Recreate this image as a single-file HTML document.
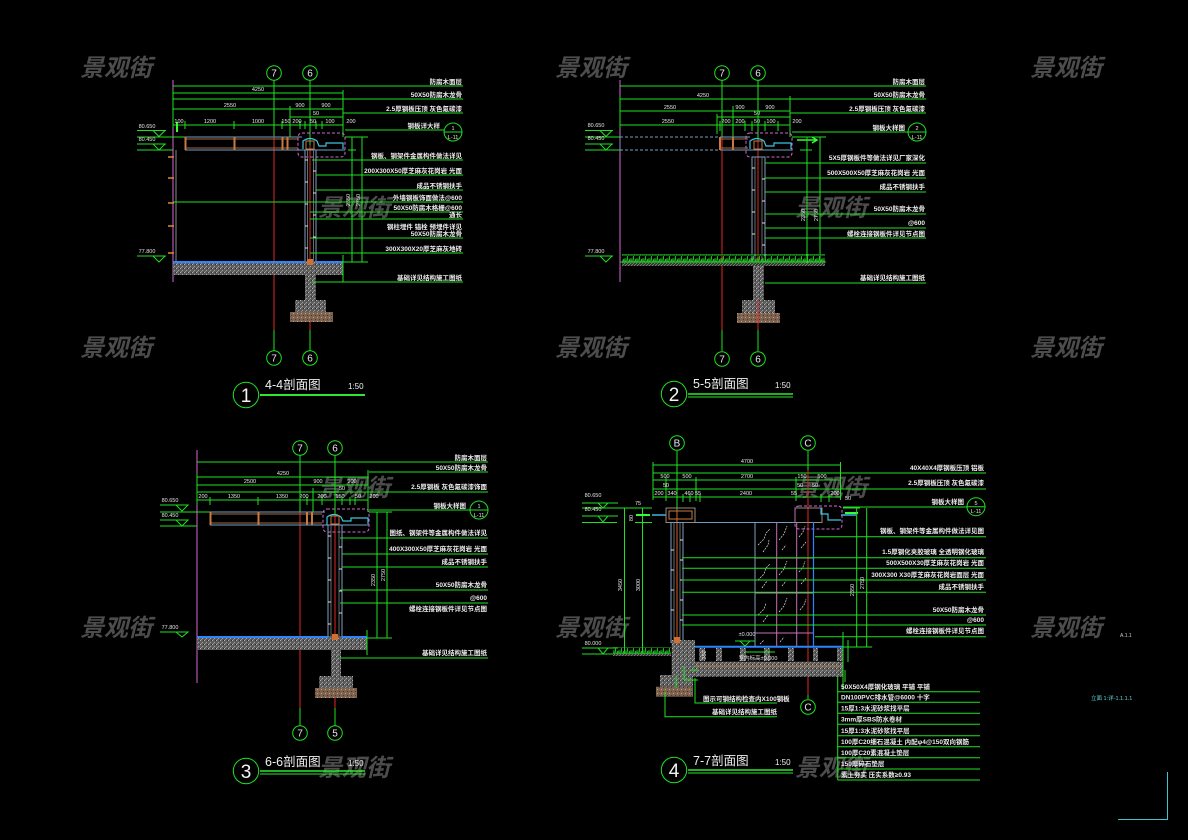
<!DOCTYPE html>
<html><head><meta charset="utf-8">
<style>
html,body{margin:0;padding:0;background:#000;}
svg{display:block}
text{font-family:"Liberation Sans","Noto Sans CJK SC",sans-serif;}
.g{stroke:#1fe21f;stroke-width:1;fill:none}
.mg{stroke:#d468d4;stroke-width:1;fill:none}
.md{stroke:#d468d4;stroke-width:1;fill:none;stroke-dasharray:3 2}
.rd{stroke:#e02626;stroke-width:1}
.bl{stroke:#2a86ff;stroke-width:2}
.st{stroke:#7f9fc4;stroke-width:1;fill:none}
.cy{stroke:#3cc4e0;stroke-width:1.2;fill:none}
.or{stroke:#c8783c;stroke-width:1}
.gy{stroke:#8a8a8a;stroke-width:1}
.t{fill:#ececec;font-size:6.5px;font-weight:bold}
.e{text-anchor:end}
.d{fill:#e4e4e4;font-size:5.5px;text-anchor:middle}
.ax{fill:#e8e8e8;font-size:10px;text-anchor:middle}
.wm{fill:#4c4c4c;font-size:24px;font-style:italic;font-weight:bold;font-family:"Liberation Sans","Noto Sans CJK SC",sans-serif}
.tt{fill:#f0f0f0;font-size:12.5px}
.ts{fill:#f0f0f0;font-size:8px}
.tn{fill:#f4f4f4;font-size:19px;text-anchor:middle}
</style></head>
<body>
<svg width="1188" height="840" viewBox="0 0 1188 840" xmlns="http://www.w3.org/2000/svg">
<defs>
<pattern id="conc" width="4" height="4" patternUnits="userSpaceOnUse">
<rect width="4" height="4" fill="#5c5c5c"/>
<rect x="0" y="0" width="1" height="1" fill="#b4b4b4"/>
<rect x="2" y="2" width="1" height="1" fill="#a0a0a0"/>
<rect x="3" y="0" width="1" height="1" fill="#2e2e2e"/>
<rect x="1" y="3" width="1" height="1" fill="#8a8a8a"/>
</pattern>
<pattern id="brn" width="4" height="4" patternUnits="userSpaceOnUse">
<rect width="4" height="4" fill="#7e6450"/>
<rect x="1" y="1" width="1" height="1" fill="#c0a080"/>
<rect x="3" y="3" width="1" height="1" fill="#4a3a2e"/>
</pattern>
<pattern id="grass" width="6" height="8" patternUnits="userSpaceOnUse">
<path d="M0 8 L1 2 L2 8 M2 8 L3.5 0 L4 8 M4 8 L5.5 3 L6 8" stroke="#23b823" fill="none" stroke-width="0.8"/>
</pattern>
<pattern id="hat" width="3" height="3" patternUnits="userSpaceOnUse">
<rect width="3" height="3" fill="#333"/>
<path d="M0 3 L3 0" stroke="#9a9a9a" stroke-width="0.6"/>
</pattern>
</defs>
<rect width="1188" height="840" fill="#000"/>

<!-- watermarks -->
<text class="wm" x="80" y="76">景观街</text>
<text class="wm" x="555" y="76">景观街</text>
<text class="wm" x="1030" y="76">景观街</text>
<text class="wm" x="318" y="216">景观街</text>
<text class="wm" x="795" y="216">景观街</text>
<text class="wm" x="80" y="356">景观街</text>
<text class="wm" x="555" y="356">景观街</text>
<text class="wm" x="1030" y="356">景观街</text>
<text class="wm" x="318" y="496">景观街</text>
<text class="wm" x="795" y="496">景观街</text>
<text class="wm" x="80" y="636">景观街</text>
<text class="wm" x="555" y="636">景观街</text>
<text class="wm" x="1030" y="636">景观街</text>
<text class="wm" x="318" y="776">景观街</text>
<text class="wm" x="795" y="776">景观街</text>

<!-- ================= SECTION 1 ================= -->
<g>
<line x1="173" y1="80" x2="173" y2="282" class="mg"/>
<line x1="176" y1="150" x2="176" y2="262" class="gy"/>
<line x1="173" y1="86" x2="463" y2="86" class="g"/>
<line x1="173" y1="93" x2="343" y2="93" class="g"/>
<line x1="173" y1="99" x2="463" y2="99" class="g"/>
<line x1="173" y1="109" x2="343" y2="109" class="g"/>
<line x1="343" y1="113" x2="463" y2="113" class="g"/>
<line x1="290" y1="117" x2="343" y2="117" class="g"/>
<line x1="173" y1="125" x2="343" y2="125" class="g"/>
<line x1="345" y1="130" x2="444" y2="130" class="g"/>
<line x1="343" y1="90" x2="343" y2="137" class="g"/>
<line x1="290" y1="106" x2="290" y2="137" class="g"/>
<line x1="173" y1="90" x2="173" y2="128" class="g"/>
<path d="M185 121v8 M234 121v8 M282 121v8 M290 121v8 M300 121v8 M305 121v8 M316 121v8 M322 121v8 M310 106v6 M310 121v8" class="g"/>
<line x1="177" y1="122" x2="177" y2="132" stroke="#3f3" stroke-width="2"/>
<text class="d" x="258" y="91">4250</text>
<text class="d" x="230" y="107">2550</text>
<text class="d" x="300" y="107">900</text>
<text class="d" x="326" y="107">900</text>
<text class="d" x="316" y="115">50</text>
<text class="d" x="179" y="123">100</text>
<text class="d" x="210" y="123">1200</text>
<text class="d" x="258" y="123">1000</text>
<text class="d" x="286" y="123">150</text>
<text class="d" x="297" y="123">200</text>
<text class="d" x="313" y="123">50</text>
<text class="d" x="330" y="123">100</text>
<text class="d" x="351" y="123">200</text>
<text class="d" x="147" y="128">80.650</text>
<line x1="137" y1="130.5" x2="166" y2="130.5" class="g"/>
<path d="M153 130.5 L165 130.5 L159 136.5 Z" class="g"/>
<line x1="137" y1="137" x2="185" y2="137" class="g"/>
<text class="d" x="147" y="141">80.450</text>
<line x1="137" y1="144" x2="166" y2="144" class="g"/>
<path d="M153 144 L165 144 L159 150 Z" class="g"/>
<line x1="137" y1="150" x2="173" y2="150" class="g"/>
<text class="d" x="147" y="253">77.800</text>
<line x1="137" y1="256" x2="166" y2="256" class="g"/>
<path d="M153 256 L165 256 L159 262 Z" class="g"/>
<line x1="274" y1="80" x2="274" y2="136" class="g"/>
<line x1="274" y1="136" x2="274" y2="330" class="rd"/>
<line x1="274" y1="330" x2="274" y2="351" class="g"/>
<line x1="310" y1="80" x2="310" y2="145" class="g"/>
<line x1="310" y1="145" x2="310" y2="330" class="rd"/>
<line x1="310" y1="330" x2="310" y2="351" class="g"/>
<circle cx="274" cy="73" r="7.3" class="g"/><text class="ax" x="274" y="76.5">7</text>
<circle cx="310" cy="73" r="7.3" class="g"/><text class="ax" x="310" y="76.5">6</text>
<circle cx="274" cy="358" r="7.3" class="g"/><text class="ax" x="274" y="361.5">7</text>
<circle cx="310" cy="358" r="7.3" class="g"/><text class="ax" x="310" y="361.5">6</text>
<line x1="185" y1="137" x2="302" y2="137" stroke="#6f9fc8"/>
<line x1="185" y1="150" x2="345" y2="150" stroke="#6f9fc8"/>
<line x1="186" y1="139" x2="298" y2="139" stroke="#a86a3e"/>
<line x1="186" y1="148" x2="298" y2="148" stroke="#a86a3e"/>
<rect x="184.5" y="137" width="2" height="13" fill="#c87a40"/>
<rect x="233.5" y="137" width="2" height="13" fill="#c87a40"/>
<rect x="281.5" y="137" width="2" height="13" fill="#c87a40"/>
<rect x="286.5" y="137" width="2" height="13" fill="#c87a40"/>
<rect x="298" y="133" width="47" height="24" rx="4" class="md"/>
<path d="M303 149 L303 141 Q310 136 317 141 L319 146 L326 146 L326 143 L343 143 L343 149" class="cy"/>
<rect x="306" y="141" width="8" height="8" fill="none" stroke="#c8783c"/>
<rect x="305" y="150" width="11" height="112" class="st"/>
<line x1="307.5" y1="150" x2="307.5" y2="262" stroke="#6a6a6a"/>
<line x1="313.5" y1="150" x2="313.5" y2="262" stroke="#6a6a6a"/>
<path d="M305 160h3M305 182h3M305 204h3M305 226h3M305 248h3M313 171h3M313 193h3M313 215h3M313 237h3" stroke="#ddd" stroke-width="1"/>
<path d="M168 157h6M168 178h6M168 203h6M168 226h6M168 253h6" stroke="#e08a30" stroke-width="1.5"/>
<rect x="173" y="262" width="170" height="13" fill="url(#conc)"/>
<line x1="173" y1="262" x2="305" y2="262" class="bl"/>
<line x1="316" y1="262" x2="343" y2="262" class="bl"/>
<line x1="343" y1="255" x2="343" y2="282" class="g"/>
<rect x="305" y="275" width="11" height="25" fill="url(#conc)"/>
<rect x="295" y="300" width="31" height="12" fill="url(#conc)"/>
<rect x="290" y="312" width="43" height="10" fill="url(#brn)"/>
<rect x="307" y="259" width="6" height="6" fill="#d07030"/>
<line x1="352" y1="137" x2="352" y2="262" class="g"/>
<line x1="362" y1="137" x2="362" y2="262" class="g"/>
<line x1="345" y1="137" x2="368" y2="137" class="g"/>
<line x1="343" y1="262" x2="368" y2="262" class="g"/>
<line x1="348" y1="150" x2="356" y2="150" class="g"/>
<text class="d" transform="translate(350,200) rotate(-90)">2350</text>
<text class="d" transform="translate(360,200) rotate(-90)">2750</text>
<line x1="312" y1="160" x2="463" y2="160" class="g"/>
<line x1="316" y1="175" x2="463" y2="175" class="g"/>
<line x1="316" y1="190" x2="463" y2="190" class="g"/>
<line x1="173" y1="202" x2="463" y2="202" class="g"/>
<line x1="310" y1="212" x2="463" y2="212" class="g"/>
<line x1="310" y1="219" x2="463" y2="219" class="g"/>
<line x1="310" y1="238" x2="463" y2="238" class="g"/>
<line x1="310" y1="253" x2="463" y2="253" class="g"/>
<line x1="312" y1="282" x2="463" y2="282" class="g"/>
<text class="t e" x="462" y="84">防腐木面层</text>
<text class="t e" x="462" y="97">50X50防腐木龙骨</text>
<text class="t e" x="462" y="111">2.5厚钢板压顶 灰色氟碳漆</text>
<text class="t e" x="440" y="128">钢板详大样</text>
<circle cx="453" cy="132" r="9" class="g"/>
<line x1="444" y1="132" x2="462" y2="132" class="g"/>
<text class="d" x="453" y="130">1</text><text class="d" x="453" y="139">L-11</text>
<text class="t e" x="462" y="158">钢板、钢架件金属构件做法详见</text>
<text class="t e" x="462" y="173">200X300X50厚芝麻灰花岗岩 光面</text>
<text class="t e" x="462" y="188">成品不锈钢扶手</text>
<text class="t e" x="462" y="200">外墙钢板饰面做法@600</text>
<text class="t e" x="462" y="210">50X50防腐木格栅@600</text>
<text class="t e" x="462" y="217">通长</text>
<text class="t e" x="462" y="229">钢柱埋件 锚栓 预埋件详见</text>
<text class="t e" x="462" y="236">50X50防腐木龙骨</text>
<text class="t e" x="462" y="251">300X300X20厚芝麻灰地砖</text>
<text class="t e" x="462" y="280">基础详见结构施工图纸</text>
<circle cx="246" cy="395" r="12.7" class="g"/>
<text class="tn" x="246" y="402">1</text>
<text class="tt" x="265" y="389">4-4剖面图</text>
<text class="ts" x="348" y="389">1:50</text>
<line x1="260" y1="395" x2="365" y2="395" stroke="#2de82d" stroke-width="2"/>
</g>

<!-- ================= SECTION 2 ================= -->
<g>
<line x1="620" y1="80" x2="620" y2="282" class="mg"/>
<line x1="620" y1="86" x2="926" y2="86" class="g"/>
<line x1="620" y1="99" x2="926" y2="99" class="g"/>
<line x1="620" y1="111" x2="790" y2="111" class="g"/>
<line x1="790" y1="113" x2="926" y2="113" class="g"/>
<line x1="717" y1="117" x2="790" y2="117" class="g"/>
<line x1="620" y1="125" x2="790" y2="125" class="g"/>
<line x1="792" y1="132" x2="908" y2="132" class="g"/>
<line x1="790" y1="96" x2="790" y2="137" class="g"/>
<line x1="733" y1="106" x2="733" y2="137" class="g"/>
<path d="M620 96v32 M717 114v20 M720 121v10 M733 121v10 M745 121v10 M752 121v10 M765 121v10 M778 121v10" class="g"/>
<text class="d" x="703" y="97">4250</text>
<text class="d" x="670" y="109">2550</text>
<text class="d" x="740" y="109">900</text>
<text class="d" x="770" y="109">900</text>
<text class="d" x="757" y="115">50</text>
<text class="d" x="668" y="123">2550</text>
<text class="d" x="726" y="123">200</text>
<text class="d" x="740" y="123">200</text>
<text class="d" x="757" y="123">50</text>
<text class="d" x="771" y="123">100</text>
<text class="d" x="797" y="123">200</text>
<text class="d" x="596" y="127">80.650</text>
<line x1="585" y1="130.5" x2="613" y2="130.5" class="g"/>
<path d="M600 130.5 L612 130.5 L606 136.5 Z" class="g"/>
<line x1="585" y1="137" x2="620" y2="137" class="g"/>
<text class="d" x="596" y="140">80.450</text>
<line x1="585" y1="144" x2="613" y2="144" class="g"/>
<path d="M600 144 L612 144 L606 150 Z" class="g"/>
<line x1="585" y1="150" x2="620" y2="150" class="g"/>
<text class="d" x="596" y="253">77.800</text>
<line x1="585" y1="256" x2="613" y2="256" class="g"/>
<path d="M600 256 L612 256 L606 262 Z" class="g"/>
<line x1="722" y1="80" x2="722" y2="137" class="g"/>
<line x1="722" y1="137" x2="722" y2="330" class="rd"/>
<line x1="722" y1="330" x2="722" y2="351" class="g"/>
<line x1="758" y1="80" x2="758" y2="140" class="g"/>
<line x1="758" y1="140" x2="758" y2="330" class="rd"/>
<line x1="758" y1="330" x2="758" y2="351" class="g"/>
<circle cx="722" cy="73" r="7.3" class="g"/><text class="ax" x="722" y="76.5">7</text>
<circle cx="758" cy="73" r="7.3" class="g"/><text class="ax" x="758" y="76.5">6</text>
<circle cx="722" cy="359" r="7.3" class="g"/><text class="ax" x="722" y="362.5">7</text>
<circle cx="758" cy="359" r="7.3" class="g"/><text class="ax" x="758" y="362.5">6</text>
<rect x="620" y="137" width="100" height="13" fill="none" stroke="#6f9fc8" stroke-dasharray="3 2"/>
<line x1="720" y1="137" x2="750" y2="137" stroke="#6f9fc8"/>
<line x1="720" y1="150" x2="792" y2="150" stroke="#6f9fc8"/>
<rect x="719" y="137" width="2" height="13" fill="#c87a40"/>
<rect x="732" y="137" width="2" height="13" fill="#c87a40"/>
<line x1="720" y1="139" x2="748" y2="139" stroke="#a86a3e"/>
<line x1="720" y1="148" x2="748" y2="148" stroke="#a86a3e"/>
<rect x="746" y="133" width="46" height="24" rx="4" class="md"/>
<path d="M750 149 L750 141 Q757 136 764 141 L766 146 L774 146 L774 143 L791 143 L791 149" class="cy"/>
<rect x="754" y="141" width="8" height="8" fill="none" stroke="#c8783c"/>
<path d="M797 140h20 M812 137l5 3l-5 3" stroke="#3f3" stroke-width="1.5" fill="none"/>
<rect x="752" y="157" width="13" height="105" class="st"/>
<line x1="755" y1="157" x2="755" y2="262" stroke="#6a6a6a"/>
<line x1="762" y1="157" x2="762" y2="262" stroke="#6a6a6a"/>
<path d="M752 168h3M752 190h3M752 212h3M752 234h3M762 179h3M762 201h3M762 223h3M762 245h3" stroke="#ddd"/>
<rect x="622" y="254" width="203" height="9" fill="url(#grass)"/>
<line x1="620" y1="262" x2="826" y2="262" stroke="#2bd02b"/>
<rect x="622" y="263" width="203" height="3" fill="url(#hat)"/>
<rect x="753" y="266" width="11" height="34" fill="url(#conc)"/>
<rect x="742" y="300" width="33" height="13" fill="url(#conc)"/>
<rect x="737" y="313" width="43" height="10" fill="url(#brn)"/>
<line x1="758" y1="300" x2="758" y2="330" class="rd"/>
<line x1="807" y1="137" x2="807" y2="263" class="g"/>
<line x1="820" y1="137" x2="820" y2="263" class="g"/>
<line x1="792" y1="137" x2="826" y2="137" class="g"/>
<line x1="800" y1="150" x2="812" y2="150" class="g"/>
<text class="d" transform="translate(805,215) rotate(-90)">2350</text>
<text class="d" transform="translate(818,215) rotate(-90)">2750</text>
<line x1="765" y1="163" x2="926" y2="163" class="g"/>
<line x1="765" y1="178" x2="926" y2="178" class="g"/>
<line x1="765" y1="192" x2="926" y2="192" class="g"/>
<line x1="765" y1="214" x2="926" y2="214" class="g"/>
<line x1="765" y1="228" x2="926" y2="228" class="g"/>
<line x1="765" y1="238" x2="926" y2="238" class="g"/>
<line x1="765" y1="283" x2="926" y2="283" class="g"/>
<text class="t e" x="925" y="84">防腐木面层</text>
<text class="t e" x="925" y="97">50X50防腐木龙骨</text>
<text class="t e" x="925" y="111">2.5厚钢板压顶 灰色氟碳漆</text>
<text class="t e" x="905" y="130">钢板大样图</text>
<circle cx="917" cy="132" r="9" class="g"/>
<line x1="908" y1="132" x2="926" y2="132" class="g"/>
<text class="d" x="917" y="130">2</text><text class="d" x="917" y="139">L-11</text>
<text class="t e" x="925" y="160">5X5厚钢板件等做法详见厂家深化</text>
<text class="t e" x="925" y="175">500X500X50厚芝麻灰花岗岩 光面</text>
<text class="t e" x="925" y="189">成品不锈钢扶手</text>
<text class="t e" x="925" y="211">50X50防腐木龙骨</text>
<text class="t e" x="925" y="225">@600</text>
<text class="t e" x="925" y="236">螺栓连接钢板件详见节点图</text>
<text class="t e" x="925" y="280">基础详见结构施工图纸</text>
<circle cx="674" cy="394" r="12.7" class="g"/>
<text class="tn" x="674" y="401">2</text>
<text class="tt" x="693" y="388">5-5剖面图</text>
<text class="ts" x="775" y="388">1:50</text>
<line x1="688" y1="394" x2="793" y2="394" stroke="#2de82d" stroke-width="1.5"/>
<line x1="688" y1="397" x2="793" y2="397" stroke="#2de82d" stroke-width="1"/>
</g>

<!-- ================= SECTION 3 ================= -->
<g>
<line x1="197" y1="450" x2="197" y2="683" class="mg"/>
<line x1="197" y1="462" x2="488" y2="462" class="g"/>
<line x1="369" y1="472" x2="488" y2="472" class="g"/>
<line x1="197" y1="477" x2="368" y2="477" class="g" stroke-width="1.5"/>
<line x1="197" y1="485" x2="368" y2="485" class="g"/>
<line x1="197" y1="492" x2="488" y2="492" class="g"/>
<line x1="197" y1="500" x2="368" y2="500" class="g"/>
<line x1="369" y1="510" x2="470" y2="510" class="g"/>
<line x1="368" y1="470" x2="368" y2="512" class="g"/>
<line x1="313" y1="488" x2="313" y2="512" class="g"/>
<path d="M197 474v30 M210 497v8 M258 497v8 M300 474v8 M300 497v8 M307 497v8 M322 497v8 M335 474v8 M335 497v8 M342 497v8 M350 497v8 M355 497v8" class="g"/>
<text class="d" x="283" y="475">4250</text>
<text class="d" x="250" y="483">2500</text>
<text class="d" x="318" y="483">900</text>
<text class="d" x="352" y="483">900</text>
<text class="d" x="342" y="490">50</text>
<text class="d" x="203" y="498">200</text>
<text class="d" x="234" y="498">1350</text>
<text class="d" x="282" y="498">1350</text>
<text class="d" x="304" y="498">200</text>
<text class="d" x="322" y="498">200</text>
<text class="d" x="340" y="498">150</text>
<text class="d" x="358" y="498">50</text>
<text class="d" x="374" y="498">200</text>
<text class="d" x="170" y="502">80.650</text>
<line x1="160" y1="505" x2="188" y2="505" class="g"/>
<path d="M176 505 L188 505 L182 511 Z" class="g"/>
<line x1="160" y1="512" x2="210" y2="512" class="g"/>
<text class="d" x="170" y="517">80.450</text>
<line x1="160" y1="520" x2="188" y2="520" class="g"/>
<path d="M176 520 L188 520 L182 526 Z" class="g"/>
<line x1="160" y1="526" x2="197" y2="526" class="g"/>
<text class="d" x="170" y="629">77.800</text>
<line x1="160" y1="632" x2="188" y2="632" class="g"/>
<path d="M176 632 L188 632 L182 637 Z" class="g"/>
<line x1="300" y1="455" x2="300" y2="512" class="g"/>
<line x1="300" y1="512" x2="300" y2="708" class="rd"/>
<line x1="300" y1="708" x2="300" y2="726" class="g"/>
<line x1="335" y1="455" x2="335" y2="515" class="g"/>
<line x1="335" y1="515" x2="335" y2="708" class="rd"/>
<line x1="335" y1="708" x2="335" y2="726" class="g"/>
<circle cx="300" cy="448" r="7.3" class="g"/><text class="ax" x="300" y="451.5">7</text>
<circle cx="335" cy="448" r="7.3" class="g"/><text class="ax" x="335" y="451.5">6</text>
<circle cx="300" cy="733" r="7.3" class="g"/><text class="ax" x="300" y="736.5">7</text>
<circle cx="335" cy="733" r="7.3" class="g"/><text class="ax" x="335" y="736.5">5</text>
<line x1="210" y1="512" x2="325" y2="512" stroke="#6f9fc8"/>
<line x1="210" y1="525" x2="369" y2="525" stroke="#6f9fc8"/>
<line x1="211" y1="514" x2="322" y2="514" stroke="#a86a3e"/>
<line x1="211" y1="523" x2="322" y2="523" stroke="#a86a3e"/>
<rect x="209.5" y="512" width="2" height="13" fill="#c87a40"/>
<rect x="257.5" y="512" width="2" height="13" fill="#c87a40"/>
<rect x="306" y="512" width="2" height="13" fill="#c87a40"/>
<rect x="311" y="512" width="2" height="13" fill="#c87a40"/>
<rect x="323" y="509" width="46" height="23" rx="4" class="md"/>
<path d="M327 525 L327 517 Q334 512 341 517 L343 521 L351 521 L351 518 L368 518 L368 524" class="cy"/>
<rect x="331" y="516" width="8" height="8" fill="none" stroke="#c8783c"/>
<rect x="328" y="525" width="14" height="112" class="st"/>
<line x1="331" y1="525" x2="331" y2="637" stroke="#6a6a6a"/>
<line x1="339" y1="525" x2="339" y2="637" stroke="#6a6a6a"/>
<path d="M328 536h3M328 558h3M328 580h3M328 602h3M328 624h3M339 547h3M339 569h3M339 591h3M339 613h3" stroke="#ddd"/>
<rect x="197" y="637" width="170" height="13" fill="url(#conc)"/>
<line x1="197" y1="637" x2="328" y2="637" class="bl"/>
<line x1="342" y1="637" x2="367" y2="637" class="bl"/>
<line x1="367" y1="630" x2="367" y2="655" class="g"/>
<rect x="332" y="634" width="6" height="6" fill="#d07030"/>
<rect x="331" y="650" width="10" height="27" fill="url(#conc)"/>
<rect x="319" y="676" width="34" height="12" fill="url(#conc)"/>
<rect x="315" y="688" width="42" height="10" fill="url(#brn)"/>
<line x1="377" y1="512" x2="377" y2="638" class="g"/>
<line x1="387" y1="512" x2="387" y2="638" class="g"/>
<line x1="369" y1="512" x2="392" y2="512" class="g"/>
<line x1="367" y1="638" x2="392" y2="638" class="g"/>
<text class="d" transform="translate(375,580) rotate(-90)">2350</text>
<text class="d" transform="translate(385,575) rotate(-90)">2750</text>
<line x1="340" y1="538" x2="488" y2="538" class="g"/>
<line x1="342" y1="554" x2="488" y2="554" class="g"/>
<line x1="342" y1="567" x2="488" y2="567" class="g"/>
<line x1="340" y1="590" x2="488" y2="590" class="g"/>
<line x1="340" y1="603" x2="488" y2="603" class="g"/>
<line x1="340" y1="658" x2="488" y2="658" class="g"/>
<text class="t e" x="487" y="460">防腐木面层</text>
<text class="t e" x="487" y="470">50X50防腐木龙骨</text>
<text class="t e" x="487" y="489">2.5厚钢板 灰色氟碳漆饰面</text>
<text class="t e" x="466" y="508">钢板大样图</text>
<circle cx="479" cy="510" r="9" class="g"/>
<line x1="470" y1="510" x2="488" y2="510" class="g"/>
<text class="d" x="479" y="508">1</text><text class="d" x="479" y="517">L-11</text>
<text class="t e" x="487" y="535">图纸、钢架件等金属构件做法详见</text>
<text class="t e" x="487" y="551">400X300X50厚芝麻灰花岗岩 光面</text>
<text class="t e" x="487" y="564">成品不锈钢扶手</text>
<text class="t e" x="487" y="587">50X50防腐木龙骨</text>
<text class="t e" x="487" y="600">@600</text>
<text class="t e" x="487" y="611">螺栓连接钢板件详见节点图</text>
<text class="t e" x="487" y="655">基础详见结构施工图纸</text>
<circle cx="246" cy="771" r="12.7" class="g"/>
<text class="tn" x="246" y="778">3</text>
<text class="tt" x="265" y="766">6-6剖面图</text>
<text class="ts" x="348" y="766">1:50</text>
<line x1="260" y1="771" x2="365" y2="771" stroke="#2de82d" stroke-width="1.5"/>
<line x1="260" y1="774" x2="365" y2="774" stroke="#2de82d" stroke-width="1"/>
</g>

<!-- ================= SECTION 4 ================= -->
<g>
<line x1="653" y1="465" x2="840" y2="465" class="g"/>
<line x1="653" y1="473" x2="986" y2="473" class="g"/>
<line x1="653" y1="480" x2="840" y2="480" class="g"/>
<line x1="840" y1="489" x2="986" y2="489" class="g"/>
<line x1="653" y1="489" x2="840" y2="489" class="g"/>
<line x1="653" y1="497" x2="840" y2="497" class="g"/>
<line x1="843" y1="507" x2="967" y2="507" class="g"/>
<line x1="840.5" y1="462" x2="840.5" y2="500" class="g"/>
<line x1="653" y1="462" x2="653" y2="500" class="g"/>
<path d="M666 477v24 M677 477v8 M696 477v24 M700 494v8 M796 477v24 M808 477v8 M821 494v8 M829 494v8 M683 494v8 M690 494v8" class="g"/>
<text class="d" x="747" y="463">4700</text>
<text class="d" x="665" y="478">500</text>
<text class="d" x="687" y="478">500</text>
<text class="d" x="747" y="478">2700</text>
<text class="d" x="802" y="478">150</text>
<text class="d" x="822" y="478">500</text>
<text class="d" x="666" y="487">50</text>
<text class="d" x="800" y="487">50</text>
<text class="d" x="815" y="487">50</text>
<text class="d" x="659" y="495">200</text>
<text class="d" x="672" y="495">340</text>
<text class="d" x="689" y="495">460</text>
<text class="d" x="698" y="495">55</text>
<text class="d" x="746" y="495">2400</text>
<text class="d" x="794" y="495">55</text>
<text class="d" x="835" y="495">200</text>
<text class="d" x="848" y="500">50</text>
<text class="d" x="593" y="497">80.650</text>
<line x1="582" y1="503" x2="618" y2="503" class="g"/>
<path d="M598 503 L608 503 L603 508 Z" class="g"/>
<line x1="582" y1="508" x2="652" y2="508" class="g"/>
<text class="d" x="593" y="511">80.450</text>
<line x1="582" y1="516" x2="618" y2="516" class="g"/>
<path d="M598 516 L608 516 L603 522 Z" class="g"/>
<line x1="582" y1="522.5" x2="617" y2="522.5" class="g"/>
<text class="d" x="593" y="645">80.000</text>
<line x1="582" y1="648" x2="618" y2="648" class="g"/>
<path d="M598 648 L608 648 L603 654 Z" class="g"/>
<line x1="582" y1="654" x2="670" y2="654" class="g"/>
<line x1="624.5" y1="508" x2="624.5" y2="654" class="g"/>
<line x1="642.5" y1="508" x2="642.5" y2="654" class="g"/>
<line x1="635" y1="522.5" x2="652" y2="522.5" class="g"/>
<line x1="636" y1="515" x2="650" y2="515" stroke="#3f3" stroke-width="2"/>
<text class="d" x="638" y="505">75</text>
<text class="d" transform="translate(633,518) rotate(-90)">80</text>
<text class="d" transform="translate(622,585) rotate(-90)">3450</text>
<text class="d" transform="translate(640,585) rotate(-90)">3000</text>
<line x1="677" y1="451" x2="677" y2="510" class="g"/>
<line x1="677" y1="510" x2="677" y2="640" stroke="#d8602a"/>
<line x1="808" y1="451" x2="808" y2="470" class="g"/>
<line x1="808" y1="470" x2="808" y2="695" class="rd"/>
<line x1="808" y1="695" x2="808" y2="699" class="g"/>
<circle cx="677" cy="443" r="7.3" class="g"/><text class="ax" x="677" y="446.5">B</text>
<circle cx="808" cy="443" r="7.3" class="g"/><text class="ax" x="808" y="446.5">C</text>
<circle cx="808" cy="707" r="7.3" class="g"/><text class="ax" x="808" y="710.5">C</text>
<line x1="652" y1="515" x2="666" y2="515" stroke="#3cb4e0" stroke-width="1.5"/>
<rect x="666" y="508" width="29" height="14.5" fill="none" stroke="#9a8a7a"/>
<rect x="669" y="511" width="23" height="8" fill="none" stroke="#c8783c"/>
<line x1="695" y1="522.5" x2="796" y2="522.5" stroke="#6f9fc8"/>
<rect x="795" y="508" width="27" height="14.5" fill="none" stroke="#9a8a7a"/>
<rect x="795" y="506" width="47" height="23" rx="4" class="md"/>
<path d="M821 508 L821 514 L828 514 L828 520 L841 520" class="cy"/>
<line x1="841" y1="515" x2="856" y2="515" stroke="#3cb4e0" stroke-width="1.5"/>
<line x1="843" y1="508" x2="860" y2="508" class="g"/>
<line x1="845" y1="513" x2="858" y2="513" stroke="#3f3" stroke-width="2"/>
<rect x="671" y="522.5" width="12" height="120" class="st"/>
<line x1="674" y1="522.5" x2="674" y2="642" stroke="#6a6a6a"/>
<line x1="680" y1="522.5" x2="680" y2="642" stroke="#6a6a6a"/>
<path d="M680 540h3M680 560h3M680 580h3M680 600h3M680 620h3M671 550h3M671 570h3M671 590h3M671 610h3" stroke="#ddd"/>
<line x1="755" y1="522" x2="755" y2="647" stroke="#7f9fc4"/>
<line x1="776.7" y1="522" x2="776.7" y2="647" stroke="#c870b8"/>
<line x1="796.7" y1="522" x2="796.7" y2="647" stroke="#c870b8"/>
<line x1="813.5" y1="522" x2="813.5" y2="647" stroke="#2a86ff" stroke-width="1.2"/>
<line x1="755" y1="558" x2="813" y2="558" stroke="#c870b8"/>
<line x1="755" y1="593" x2="813" y2="593" stroke="#c870b8"/>
<line x1="755" y1="625" x2="813" y2="625" stroke="#c870b8"/>
<line x1="755" y1="633" x2="813" y2="633" stroke="#c870b8"/>
<path d="M758 545l6-6l2-6l4-4 M763 552l5-7l1-5 M779 540l5-6l3-8 M782 550l4-5 M799 537l4-5l2-6 M801 548l5-6 M758 580l6-6l2-6l4-4 M762 588l5-7 M779 575l5-6l3-8 M782 586l4-5 M799 572l4-5l2-6 M801 584l5-6 M758 615l6-6l2-6 M763 622l5-7 M779 612l5-6l3-8 M800 610l4-5l2-6 M760 644l4-4 M780 642l4-5" stroke="#e0e0e0" stroke-width="0.7" fill="none" stroke-dasharray="2 1"/>
<line x1="815" y1="536.7" x2="986" y2="536.7" class="g"/>
<line x1="682" y1="557.7" x2="986" y2="557.7" class="g"/>
<line x1="682" y1="568.3" x2="986" y2="568.3" class="g"/>
<line x1="682" y1="580" x2="986" y2="580" class="g"/>
<line x1="682" y1="592.3" x2="986" y2="592.3" class="g"/>
<line x1="682" y1="615" x2="986" y2="615" class="g"/>
<line x1="682" y1="625" x2="986" y2="625" class="g"/>
<line x1="815" y1="636.7" x2="986" y2="636.7" class="g"/>
<text class="t e" x="984" y="470">40X40X4厚钢板压顶 铝板</text>
<text class="t e" x="984" y="485">2.5厚钢板压顶 灰色氟碳漆</text>
<text class="t e" x="964" y="504">钢板大样图</text>
<circle cx="976" cy="506.7" r="9" class="g"/>
<line x1="967" y1="506.7" x2="985" y2="506.7" class="g"/>
<text class="d" x="976" y="505">5</text><text class="d" x="976" y="513">L-11</text>
<text class="t e" x="984" y="533">钢板、钢架件等金属构件做法详见图</text>
<text class="t e" x="984" y="554">1.5厚钢化夹胶玻璃 全透明钢化玻璃</text>
<text class="t e" x="984" y="565">500X500X30厚芝麻灰花岗岩 光面</text>
<text class="t e" x="984" y="577">300X300 X30厚芝麻灰花岗岩面层 光面</text>
<text class="t e" x="984" y="589">成品不锈钢扶手</text>
<text class="t e" x="984" y="612">50X50防腐木龙骨</text>
<text class="t e" x="984" y="622">@600</text>
<text class="t e" x="984" y="633">螺栓连接钢板件详见节点图</text>
<line x1="856.7" y1="508" x2="856.7" y2="647" class="g"/>
<line x1="866.7" y1="508" x2="866.7" y2="647" class="g"/>
<line x1="843" y1="647" x2="872" y2="647" class="g"/>
<text class="d" transform="translate(854,590) rotate(-90)">2350</text>
<text class="d" transform="translate(864,583) rotate(-90)">2750</text>
<line x1="683" y1="646.7" x2="843" y2="646.7" class="bl"/>
<rect x="699" y="648" width="6" height="13" fill="url(#conc)"/>
<rect x="716" y="648" width="6" height="13" fill="url(#conc)"/>
<rect x="740" y="648" width="6" height="13" fill="url(#conc)"/>
<rect x="764" y="648" width="6" height="13" fill="url(#conc)"/>
<rect x="788" y="648" width="6" height="13" fill="url(#conc)"/>
<rect x="813" y="648" width="5" height="13" fill="url(#conc)"/>
<rect x="837" y="648" width="6" height="13" fill="url(#conc)"/>
<rect x="695" y="661.7" width="148" height="15" fill="url(#conc)"/>
<line x1="695" y1="666" x2="843" y2="666" stroke="#b07a4a"/>
<line x1="843" y1="632" x2="843" y2="690" class="g"/>
<line x1="848" y1="640" x2="848" y2="662" class="g"/>
<text class="d" x="747" y="636">±0.000</text>
<path d="M740 641 L750 641 L745 646 Z" class="g"/>
<line x1="735" y1="641" x2="755" y2="641" class="g"/>
<text class="d" x="758" y="660">室内标高±0.000</text>
<line x1="745" y1="652" x2="775" y2="652" class="g"/>
<text class="d" transform="translate(706,655) rotate(-90)">250</text>
<rect x="613" y="647" width="58" height="7" fill="url(#grass)"/>
<rect x="613" y="654" width="58" height="2" fill="url(#hat)"/>
<rect x="671.7" y="640" width="23.3" height="36.7" fill="url(#conc)"/>
<rect x="660" y="675" width="33" height="11.7" fill="url(#conc)"/>
<rect x="656" y="686.7" width="37" height="10" fill="url(#brn)"/>
<rect x="674" y="637" width="6" height="6" fill="#d07030"/>
<path d="M676 676v12 M684 666v14 M690 670h8 M684 680h14" class="g"/>
<path d="M695 678 L695 703 L777 703" class="g"/>
<path d="M665 692 L665 716.7 L777 716.7" class="g"/>
<text class="t" x="703" y="701">图示可钢结构检查内X100钢板</text>
<text class="t" x="712" y="714">基础详见结构施工图纸</text>
<line x1="837.7" y1="676" x2="837.7" y2="780" class="g"/>
<line x1="845" y1="670" x2="845" y2="682" class="g"/>
<line x1="837.7" y1="691.7" x2="980" y2="691.7" class="g"/>
<line x1="837.7" y1="702.3" x2="980" y2="702.3" class="g"/>
<line x1="837.7" y1="713.3" x2="980" y2="713.3" class="g"/>
<line x1="837.7" y1="724.3" x2="980" y2="724.3" class="g"/>
<line x1="837.7" y1="735.7" x2="980" y2="735.7" class="g"/>
<line x1="837.7" y1="746.7" x2="980" y2="746.7" class="g"/>
<line x1="837.7" y1="757.7" x2="980" y2="757.7" class="g"/>
<line x1="837.7" y1="769" x2="980" y2="769" class="g"/>
<line x1="837.7" y1="780" x2="980" y2="780" class="g"/>
<text class="t" x="841" y="689">50X50X4厚钢化玻璃 平铺 平铺</text>
<text class="t" x="841" y="699.5">DN100PVC排水管@6000 十字</text>
<text class="t" x="841" y="710.5">15厚1:3水泥砂浆找平层</text>
<text class="t" x="841" y="721.5">3mm厚SBS防水卷材</text>
<text class="t" x="841" y="733">15厚1:3水泥砂浆找平层</text>
<text class="t" x="841" y="744">100厚C20细石混凝土 内配φ4@150双向钢筋</text>
<text class="t" x="841" y="755">100厚C20素混凝土垫层</text>
<text class="t" x="841" y="766">150厚碎石垫层</text>
<text class="t" x="841" y="777">素土夯实 压实系数≥0.93</text>
<circle cx="674" cy="770" r="12.7" class="g"/>
<text class="tn" x="674" y="777">4</text>
<text class="tt" x="693" y="765">7-7剖面图</text>
<text class="ts" x="775" y="765">1:50</text>
<line x1="688" y1="770" x2="793" y2="770" stroke="#2de82d" stroke-width="1.5"/>
<line x1="688" y1="773" x2="793" y2="773" stroke="#2de82d" stroke-width="1"/>
</g>

<text x="1120" y="637" fill="#cfcfcf" font-size="5px">A.1.1</text>
<text x="1091" y="700" fill="#5fd6d6" font-size="5.5px">立面 1:详-1.1.1.1</text>
<path d="M1167.5 772 L1167.5 819.5 L1118 819.5" stroke="#3cc4d0" stroke-width="1" fill="none"/>
</svg>
</body></html>
